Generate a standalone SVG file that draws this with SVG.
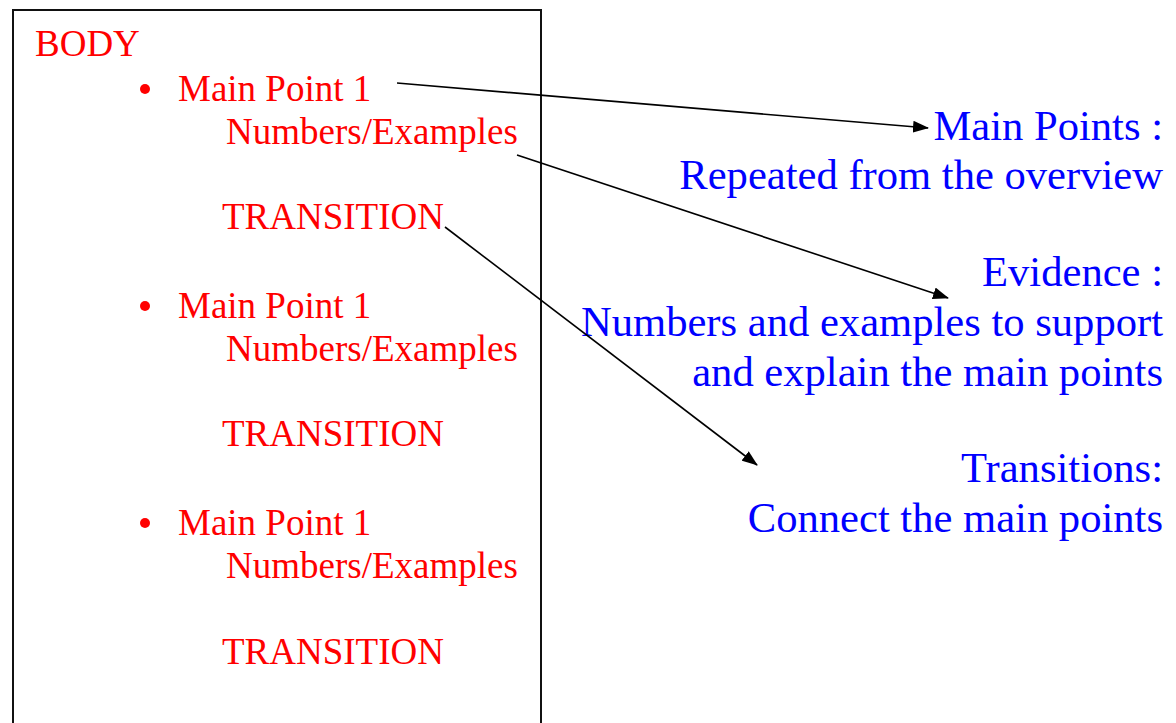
<svg xmlns="http://www.w3.org/2000/svg" width="1176" height="723" viewBox="0 0 1176 723">
<defs>
<style>
.l{font-family:"Liberation Serif","Times New Roman",serif;font-size:37px;fill:#ff0000}
.r{font-family:"Liberation Serif","Times New Roman",serif;font-size:42.6px;fill:#0000ff;text-anchor:end}
.c{stroke:#000;stroke-width:1.6;fill:none}
</style>
<marker id="ah" viewBox="0 0 16 12" refX="15" refY="6" markerWidth="16" markerHeight="12" markerUnits="userSpaceOnUse" orient="auto">
<path d="M0,0 L16,6 L0,12 z" fill="#000"/>
</marker>
</defs>
<rect width="1176" height="723" fill="#fff"/>
<g id="body">
<rect x="13" y="10" width="528" height="730" fill="none" stroke="#111" stroke-width="2"/>
<text class="l" x="35" y="56">BODY</text>
</g>
<g id="point1">
<circle cx="145" cy="89" r="5" fill="#ff0000"/>
<text class="l" x="178" y="101">Main Point 1</text>
<text class="l" x="226" y="144">Numbers/Examples</text>
<text class="l" x="222" y="229">TRANSITION</text>
</g>
<g id="point2">
<circle cx="145" cy="306" r="5" fill="#ff0000"/>
<text class="l" x="178" y="318">Main Point 1</text>
<text class="l" x="226" y="361">Numbers/Examples</text>
<text class="l" x="222" y="446">TRANSITION</text>
</g>
<g id="point3">
<circle cx="145" cy="523" r="5" fill="#ff0000"/>
<text class="l" x="178" y="535">Main Point 1</text>
<text class="l" x="226" y="578">Numbers/Examples</text>
<text class="l" x="222" y="664">TRANSITION</text>
</g>
<g id="mainpoints">
<text class="r" x="1163" y="140">Main Points :</text>
<text class="r" x="1163" y="189">Repeated from the overview</text>
</g>
<g id="evidence">
<text class="r" x="1163" y="286">Evidence :</text>
<text class="r" x="1163" y="336">Numbers and examples to support</text>
<text class="r" x="1163" y="386">and explain the main points</text>
</g>
<g id="transitions">
<text class="r" x="1163" y="482">Transitions:</text>
<text class="r" x="1163" y="532">Connect the main points</text>
</g>
<g id="connectors">
<line class="c" x1="397" y1="83" x2="928" y2="128" marker-end="url(#ah)"/>
<line class="c" x1="517" y1="155" x2="948" y2="298" marker-end="url(#ah)"/>
<line class="c" x1="445" y1="227" x2="757" y2="465" marker-end="url(#ah)"/>
</g>
</svg>
